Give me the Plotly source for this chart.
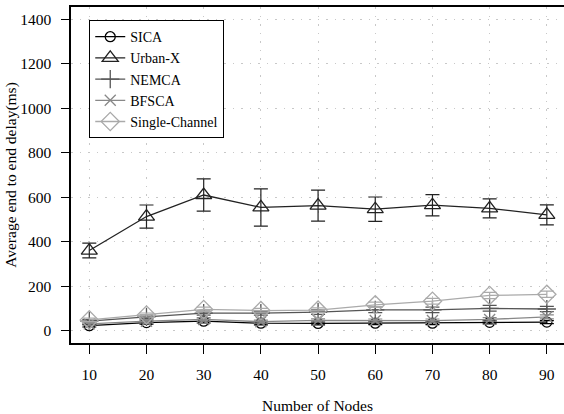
import plotly.graph_objects as go

nodes = [10, 20, 30, 40, 50, 60, 70, 80, 90]

sica = [22, 36, 42, 33, 32, 33, 33, 37, 38]
sica_err = [6, 7, 8, 7, 6, 6, 6, 7, 7]

urban_x = [360, 513, 610, 554, 562, 546, 564, 550, 521]
urban_x_err = [33, 52, 73, 84, 70, 55, 48, 43, 45]

nemca = [42, 62, 78, 78, 83, 93, 93, 100, 97]
nemca_err = [7, 8, 9, 9, 10, 12, 12, 13, 12]

bfsca = [30, 42, 50, 40, 46, 45, 45, 50, 62]
bfsca_err = [6, 7, 8, 7, 7, 7, 7, 8, 9]

single_channel = [48, 70, 95, 90, 92, 116, 132, 158, 163]
single_channel_err = [8, 9, 10, 10, 10, 12, 13, 14, 14]

series = [
    ("SICA", sica, sica_err, "#000000", "circle-open", 10),
    ("Urban-X", urban_x, urban_x_err, "#222222", "triangle-up-open", 14),
    ("NEMCA", nemca, nemca_err, "#555555", "cross-thin-open", 13),
    ("BFSCA", bfsca, bfsca_err, "#888888", "x-thin-open", 11),
    ("Single-Channel", single_channel, single_channel_err, "#aaaaaa", "diamond-open", 14),
]

FONT = "Liberation Serif"

fig = go.Figure()
for name, ys, errs, color, symbol, size in series:
    fig.add_trace(go.Scatter(
        x=nodes, y=ys, name=name, mode="lines+markers",
        line=dict(color=color, width=1.3),
        marker=dict(symbol=symbol, size=size, color=color,
                    line=dict(color=color, width=1.3)),
        error_y=dict(type="data", array=errs, visible=True,
                     color=color, thickness=1.2, width=7),
    ))

fig.update_layout(
    width=564, height=414,
    margin=dict(l=71, r=0, t=7, b=71),
    paper_bgcolor="white", plot_bgcolor="white",
    font=dict(family=FONT, size=15.5, color="black"),
    showlegend=True,
    legend=dict(
        x=0.037, y=0.961, xanchor="left", yanchor="top",
        bgcolor="white", bordercolor="black", borderwidth=1,
        font=dict(family=FONT, size=14, color="black"),
        tracegroupgap=0, itemwidth=30,
    ),
)

fig.update_xaxes(
    range=[6.8, 93.0], tickvals=nodes, ticktext=[str(n) for n in nodes],
    showline=True, linecolor="black", linewidth=1.5, mirror=True,
    ticks="outside", ticklen=9, tickcolor="black", tickwidth=1,
    showgrid=True, gridcolor="#c8c8c8", griddash="1.5px,7px", gridwidth=1.2,
    zeroline=False, ticklabelstandoff=8, automargin=False,
    title=dict(text="Number of Nodes", standoff=22,
               font=dict(family=FONT, size=15.5)),
)
fig.update_yaxes(
    range=[-56, 1456], tickvals=list(range(0, 1401, 200)),
    showline=True, linecolor="black", linewidth=1.5, mirror=False,
    ticks="outside", ticklen=8, tickcolor="black", tickwidth=1,
    showgrid=True, gridcolor="#c8c8c8", griddash="1.5px,7px", gridwidth=1.2,
    zeroline=False, ticklabelstandoff=7, automargin=False,
    title=dict(text="Average end to end delay(ms)", standoff=0,
               font=dict(family=FONT, size=15.5)),
)

fig.write_html("out.html")
